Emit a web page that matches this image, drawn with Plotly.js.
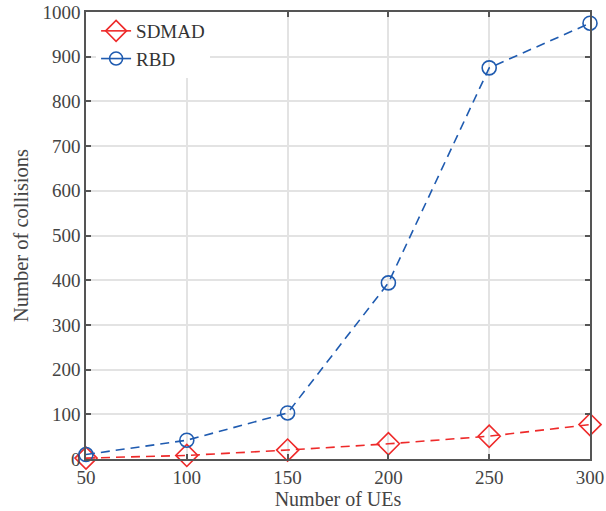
<!DOCTYPE html>
<html><head><meta charset="utf-8">
<script src="https://cdn.plot.ly/plotly-3.0.1.min.js"></script>
<style>html,body{margin:0;padding:0;background:#fff}#chart{width:606px;height:511px}</style>
</head><body><div id="chart"></div>
<script>
const ues = [50, 100, 150, 200, 250, 300];
const sdmad = [2, 8, 20, 34, 51, 77];
const rbd = [10, 42, 103, 394, 875, 975];
const xTicks = [50, 100, 150, 200, 250, 300];
const yTicks = [0, 100, 200, 300, 400, 500, 600, 700, 800, 900, 1000];
const seriesNames = ['SDMAD', 'RBD'];

const fontFam = '"Liberation Serif", "DejaVu Serif", serif';
const red = '#ee2a2a', blue = '#1f5bb0';
const traces = [
  {x: ues, y: sdmad, name: seriesNames[0], type: 'scatter', mode: 'lines+markers', cliponaxis: false, showlegend: false,
   line: {color: red, width: 1.6, dash: '9px,6px'},
   marker: {symbol: 'diamond-open', size: 17, color: red, line: {width: 1.6, color: red}}},
  {x: ues, y: rbd, name: seriesNames[1], type: 'scatter', mode: 'lines+markers', cliponaxis: false, showlegend: false,
   line: {color: blue, width: 1.6, dash: '9px,6px'},
   marker: {symbol: 'circle-open', size: 14, color: blue, line: {width: 1.6, color: blue}}},
  {x: [null], y: [null], name: seriesNames[0], type: 'scatter', mode: 'lines+markers',
   line: {color: red, width: 1.6},
   marker: {symbol: 'diamond-open', size: 16, color: red, line: {width: 1.6, color: red}}},
  {x: [null], y: [null], name: seriesNames[1], type: 'scatter', mode: 'lines+markers',
   line: {color: blue, width: 1.6},
   marker: {symbol: 'circle-open', size: 13, color: blue, line: {width: 1.6, color: blue}}}
];
const axBase = {
  showline: true, linecolor: '#555', linewidth: 1.5, mirror: 'ticks',
  ticks: 'inside', ticklen: 5, tickcolor: '#555', tickwidth: 1.5,
  showgrid: true, gridcolor: '#e3e3e3', gridwidth: 1.5, zeroline: false,
  tickfont: {family: fontFam, size: 19, color: '#444'}
};
const layout = {
  width: 606, height: 511,
  margin: {l: 86, r: 16, t: 12, b: 52},
  paper_bgcolor: '#fff', plot_bgcolor: '#fff',
  showlegend: true,
  legend: {x: 0.02, y: 1.0, xanchor: 'left', yanchor: 'top', bgcolor: '#fff', borderwidth: 0,
    font: {family: fontFam, size: 19, color: '#333'}, tracegroupgap: 0, itemwidth: 30},
  xaxis: Object.assign({}, axBase, {range: [50, 300], tickvals: xTicks, ticktext: xTicks.map(String),
    title: {text: 'Number of UEs', font: {family: fontFam, size: 20, color: '#444'}, standoff: 2}}),
  yaxis: Object.assign({}, axBase, {range: [0, 1000], tickvals: yTicks, ticktext: yTicks.map(String),
    title: {text: 'Number of collisions', font: {family: fontFam, size: 20.5, color: '#444'}, standoff: 8}})
};
Plotly.newPlot('chart', traces, layout, {displayModeBar: false});
</script></body></html>
